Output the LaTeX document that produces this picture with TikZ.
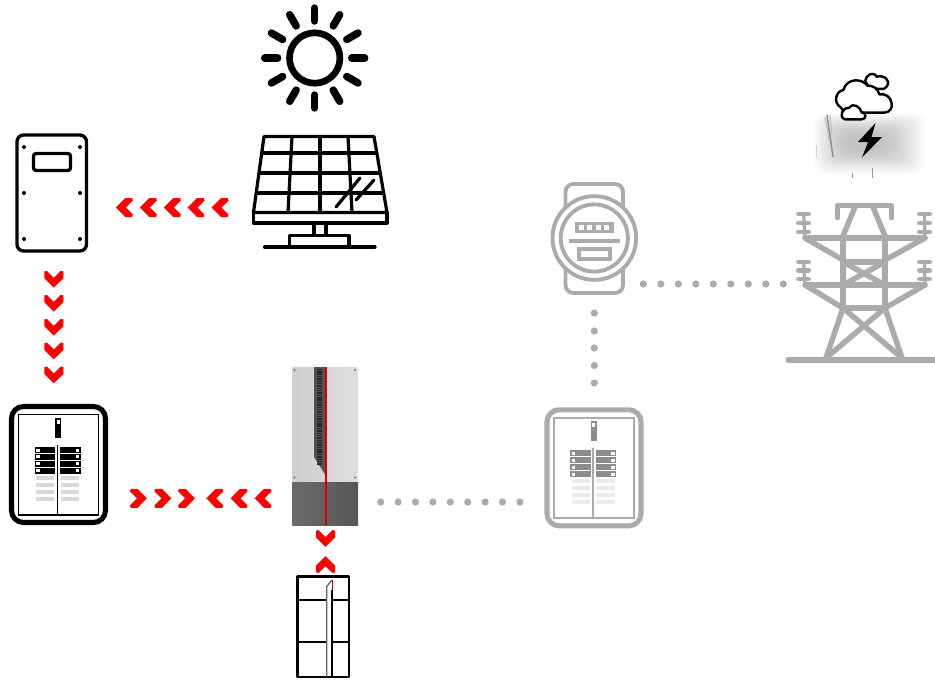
\documentclass[tikz,border=0pt]{standalone}
\definecolor{chevred}{HTML}{FF0000}
\definecolor{ltgrey}{HTML}{ABABAB}
\tikzset{
  chevfill/.style={fill=chevred},
  dotfill/.style={fill=ltgrey},
  sunray/.style={line width=5.6pt,line cap=round},
  blackline/.style={draw=black,line join=round},
  towerline/.style={draw=ltgrey,line width=4.1pt,line cap=round,line join=round},
  discline/.style={draw=ltgrey,line width=3.7pt,line cap=round},
  meterline/.style={draw=ltgrey,line width=2.9pt},
  cloudline/.style={draw=black,fill=white,line width=1.8pt,line join=round},
}
\newcommand{\chevshape}[3]{\fill[chevfill,shift={(#1,#2)},rotate=#3]
  (-9.5,-7.8) -- (-7,-8.5) -- (0,-1.5) -- (7,-8.5) -- (9.5,-7.8) -- (9.5,-1) -- (0,8.3) -- (-9.5,-1) -- cycle;}
\newcommand{\panelicon}[6]{% xshift, yshift, main, inner line, breaker, pale
\begin{scope}[shift={(#1,#2)}]
  \draw[draw=#3,line width=3.8pt,rounded corners=9pt] (11.5,406.5) rectangle (105.5,522.5);
  \draw[draw=#4,line width=1.3pt] (18.5,414.5) rectangle (98.5,515);
  \draw[draw=#4,line width=.9pt] (57.5,445) -- (57.5,515);
  \fill[#5] (55,418) rectangle (61,438);
  \fill[white] (56.5,420) rectangle (59.5,424);
  \foreach \r in {0,1,2,3}{
    \fill[#5] (34.5,{447+6.9*\r}) rectangle (55,{447+6.9*\r+5.9});
    \fill[#5] (60,{447+6.9*\r}) rectangle (80.5,{447+6.9*\r+5.9});
    \fill[white] (36,{448.5+6.9*\r}) rectangle (39.5,{448.5+6.9*\r+3});
    \fill[white] (75.5,{448.5+6.9*\r}) rectangle (79,{448.5+6.9*\r+3});
  }
  \foreach \r in {0,1,2,3}{
    \fill[#6] (36,{475.5+7*\r}) rectangle (54,{475.5+7*\r+4.6});
    \fill[#6] (60.5,{475.5+7*\r}) rectangle (79,{475.5+7*\r+4.6});
  }
\end{scope}}
\begin{document}
\begin{tikzpicture}[x=.75pt,y=-.75pt]
\useasboundingbox (0,0) rectangle (935,679);

% sun
\begin{scope}[shift={(314.7,58)}]
  \draw[line width=5pt] (0,0) circle[radius=18.9pt];
  \foreach \a in {0,30,...,330}{\draw[sunray] (\a:37) -- (\a:50);}
\end{scope}

% solar panel
\begin{scope}[blackline,line width=2.4pt]
  \draw (264,136.5) -- (374,136.5) -- (387,212.5) -- (253.5,212.5) -- cycle;
  \draw (253.5,212.5) rectangle (387,223);
  \draw (261.5,153) -- (377,153);
  \draw (258.5,173) -- (380.5,173);
  \draw (255.5,193) -- (384,193);
  \draw (292,136.5) -- (288,212.5);
  \draw (320,136.5) -- (320,212.5);
  \draw (348,136.5) -- (352,212.5);
  \draw (314,223) -- (314,235);
  \draw (326,223) -- (326,235);
  \draw (289.5,247) -- (289.5,235.5) -- (349,235.5) -- (349,247);
  \draw[line cap=round] (264.5,247) -- (375,247);
  \draw[line cap=round] (336,207) -- (360,178);
  \draw[line cap=round] (356,200) -- (374,180);
\end{scope}

% combiner box
\draw[blackline,line width=2.5pt,rounded corners=5pt] (17,135) rectangle (86.5,251);
\draw[blackline,line width=2.5pt,rounded corners=2pt] (33.5,153.5) rectangle (70.5,170.5);
\foreach \px in {24,80}{\foreach \py in {147,193,239}{\fill (\px,\py) circle[radius=1.5pt];}}

% panels
\panelicon{0}{0}{black}{black}{black}{black!15}
\panelicon{535.5}{3.3}{ltgrey}{ltgrey}{black!45}{black!8}

% battery inverter
\shade[left color=black!19,right color=black!13,rounded corners=1pt] (292,367) rectangle (358,482);
\shade[left color=black!58,right color=black!66] (292,482) rectangle (358,525);
\fill[black!68] (314,367) -- (326,367) -- (326,476) -- (314,457) -- cycle;
\draw[black!85,line width=3.3pt,dash pattern=on .8pt off .5pt] (319.5,369) -- (319.5,466);
\foreach \px in {294.5,355}{\foreach \py in {370,477.5}{\fill[black!55] (\px,\py) circle[radius=.9pt];}}
\draw[red!85!black,line width=.8pt] (326,367) -- (326,525);

% battery
\draw[blackline,line width=1.8pt] (297.5,576.5) rectangle (349,677);
\draw[black,line width=.9pt] (298,600) -- (327,600);
\draw[black,line width=.9pt] (332,600) -- (349,600);
\draw[black,line width=.9pt] (298,642) -- (327,642);
\draw[black,line width=.9pt] (332,642) -- (349,642);
\draw[black!60,line width=.9pt] (326.8,677) -- (326.8,586.5) -- (332,580);
\draw[black,line width=.9pt] (332,677) -- (332,590);
\draw[red!70!black,line width=.7pt] (332,580) -- (332,590);

% meter
\draw[meterline,rounded corners=6pt] (565.5,184) rectangle (623,293);
\fill[white] (594.3,238) circle[radius=32pt];
\draw[meterline] (594.3,238) circle[radius=31.4pt];
\draw[meterline] (594.3,238) circle[radius=25.2pt];
\fill[ltgrey] (575,222) rectangle (613.5,233);
\foreach \px in {578.5,587,595.5,604}{\fill[white] (\px,225) rectangle +(5,5);}
\draw[draw=ltgrey,line width=2.5pt] (568.5,241) -- (620,241);
\draw[draw=ltgrey,line width=2.5pt] (579,249) rectangle (610,259);

% tower
\begin{scope}[towerline]
  \draw[line width=3.4pt] (837.5,218) -- (837.5,205.5) -- (891.5,205.5) -- (891.5,218);
  \draw (855,207) -- (843,236);
  \draw (873,207) -- (885,236);
  \draw (805,238) -- (925,238);
  \draw (805,238) -- (843,260);
  \draw (925,238) -- (885,260);
  \draw (843,238) -- (843,308);
  \draw (885,238) -- (885,308);
  \draw (843,262) -- (885,262);
  \draw (843,262) -- (885,285);
  \draw (885,262) -- (843,285);
  \draw (805,285) -- (925,285);
  \draw (805,285) -- (843,308);
  \draw (925,285) -- (885,308);
  \draw (843,308) -- (885,308);
  \draw (843,308) -- (826,358);
  \draw (885,308) -- (902,358);
  \draw (843,308) -- (902,358);
  \draw (885,308) -- (826,358);
  \draw (788,360) -- (935,360);
\end{scope}
\foreach \cx/\ax in {803.5/805,924.5/925}{
  \draw[draw=ltgrey,line width=2.4pt] (\cx,213) -- (\ax,238);
  \draw[draw=ltgrey,line width=2.4pt] (\cx,261) -- (\ax,285);
  \foreach \cy in {214,223,232,262,270.5,279}{
    \draw[discline] (\cx-5,\cy) -- (\cx+5,\cy);
  }
}

% dotted links
\foreach \i in {0,...,8}{\fill[dotfill] ({643.3+17.5*\i},284) circle[radius=2.7pt];}
\foreach \i in {0,...,8}{\fill[dotfill] ({380.7+17.4*\i},502) circle[radius=2.7pt];}
\foreach \py in {313,331,348,365.5,383}{\fill[dotfill] (594.3,\py) circle[radius=2.7pt];}

% chevrons
\foreach \px in {124.3,148.3,172.3,196,220}{\chevshape{\px}{207.5}{-90}}
\foreach \py in {279.3,303.3,327.3,351,375}{\chevshape{53.8}{\py}{0}}
\foreach \px in {138.5,163,186.6}{\chevshape{\px}{498.3}{90}}
\foreach \px in {214.7,239,263}{\chevshape{\px}{498.3}{-90}}
\chevshape{325.5}{538.5}{0}
\chevshape{325.5}{564.5}{180}

% storm haze
\foreach \i in {0,...,21}{
  \fill[black,opacity=.011,rounded corners=9pt] ({813+1.5*\i},{113+1*\i}) rectangle ({926-1.9*\i},{174-1.1*\i});
}
\draw[black!45,line width=1.1pt] (827,115) -- (833,157);
\draw[black!25,line width=.8pt] (825,117) -- (829,140);
\draw[black!25,line width=.8pt] (830,115) -- (832,135);
\draw[black!18,line width=.6pt] (816,145) -- (816,157);
\draw[black!22,line width=.7pt] (861,129) -- (861,144);
\draw[black!22,line width=.7pt] (868,131) -- (869,146);
\draw[black!40,line width=.7pt] (852.5,173) -- (852.5,178);
\draw[black!40,line width=.7pt] (872,168) -- (872,178);

% lightning
\fill[black] (875.5,123) -- (858,142) -- (868,142) -- (862,157.5) -- (882,137) -- (871.5,137) -- cycle;

% clouds
\begin{scope}[shift={(810,65)},scale=.3333]
  \draw[cloudline] (165,48) .. controls (170,28) and (190,18) .. (200,35)
     .. controls (225,28) and (242,50) .. (232,62)
     .. controls (228,68) and (225,70) .. (220,72) -- (180,70) -- cycle;
  \draw[cloudline] (160,143) -- (222,143) .. controls (240,143) and (248,128) .. (245,115)
     .. controls (243,95) and (225,85) .. (208,88)
     .. controls (205,72) and (188,60) .. (172,62)
     .. controls (160,42) and (112,35) .. (100,75)
     .. controls (78,78) and (68,112) .. (92,127) -- (105,143) -- cycle;
  \draw[cloudline] (105,163) -- (155,163) .. controls (170,163) and (170,143) .. (155,142)
     .. controls (150,125) and (130,112) .. (118,128)
     .. controls (100,125) and (83,155) .. (105,163) -- cycle;
\end{scope}
\end{tikzpicture}
\end{document}
